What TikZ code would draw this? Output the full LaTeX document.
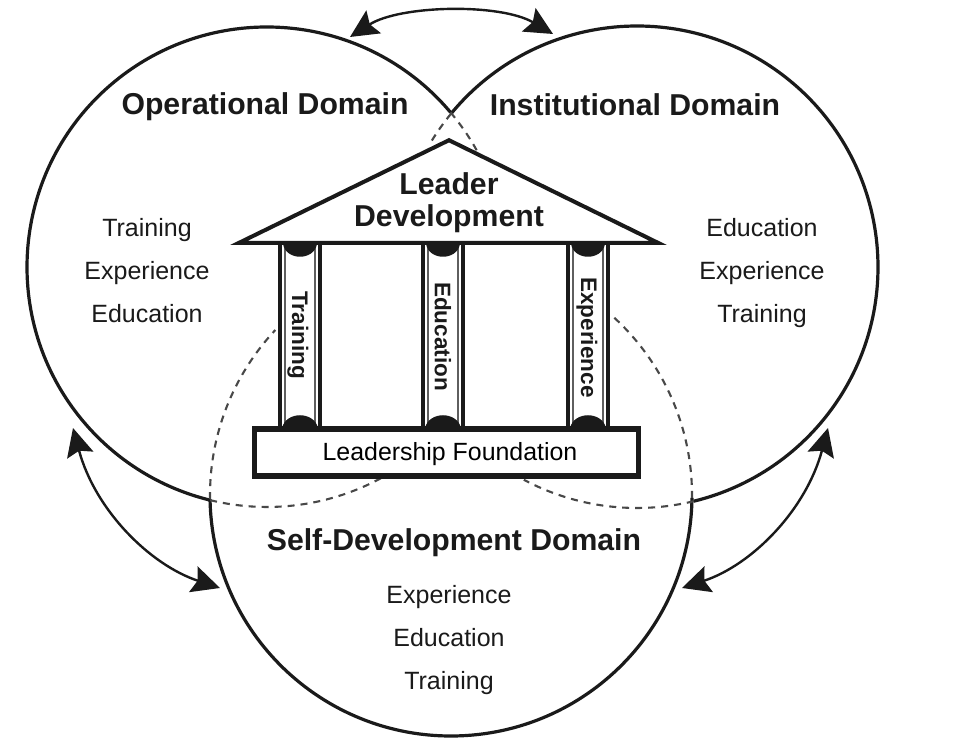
\documentclass[tikz,border=0pt]{standalone}
\usepackage{fontspec}
\setmainfont{Liberation Sans}
\usetikzlibrary{arrows.meta,positioning}
\definecolor{ink}{HTML}{1A1A1A}
\tikzset{
  domainline/.style={line width=3.2pt,ink},
  hiddenline/.style={line width=2.1pt,ink!80,dash pattern=on 7pt off 6pt},
  cycle arrow/.style={line width=2.4pt,ink,{Stealth[length=28pt,width=27pt,inset=4.5pt]}-{Stealth[length=28pt,width=27pt,inset=4.5pt]}},
  title/.style={font=\bfseries\fontsize{30.2}{33}\selectfont,text=ink,inner sep=0pt},
  item/.style={font=\fontsize{25}{28}\selectfont,text=ink,inner sep=0pt},
  pillartext/.style={font=\bfseries\fontsize{22.5}{24}\selectfont,text=ink,inner sep=0pt,rotate=-90},
  roof/.style={line width=4pt,draw=ink,fill=white,miter limit=20,line join=miter},
  heavy/.style={line width=4pt,ink},
  thin/.style={line width=1.8pt,ink!70},
  basebox/.style={draw=ink,fill=white,line width=5.5pt,minimum width=384pt,minimum height=47pt,inner sep=0pt}
}
\newcommand{\pillar}[3]{%
  \draw[heavy] (#1+2,#3-245) -- (#1+2,#3-428);
  \draw[heavy] (#1+42,#3-245) -- (#1+42,#3-428);
  \draw[thin] (#1+7,#3-245) -- (#1+7,#3-428);
  \draw[thin] (#1+37,#3-245) -- (#1+37,#3-428);
  \fill[ink] (#1+5,#3-244) .. controls (#1+8,#3-261) and (#1+36,#3-261) .. (#1+39,#3-244) -- cycle;
  \fill[ink] (#1+4,#3-428) .. controls (#1+8,#3-411) and (#1+36,#3-411) .. (#1+40,#3-428) -- cycle;
}
\begin{document}
\begin{tikzpicture}[x=1pt,y=1pt]
\useasboundingbox (0,0) rectangle (966,746);
\fill[white] (0,0) rectangle (966,746);
% circle centres
\coordinate (L) at (267,479);
\coordinate (R) at (637,479);
\coordinate (B) at (451,251);
% solid domain outlines
\draw[domainline] ([shift={(40.1:240pt)}]L) arc[start angle=40.1,end angle=256.3,radius=240pt];
\draw[domainline] ([shift={(140.5:241pt)}]R) arc[start angle=140.5,end angle=-76.4,radius=241pt];
\draw[domainline] ([shift={(181:241pt)}]B) arc[start angle=181,end angle=359.3,radius=241pt];
% hidden parts of the outlines
\draw[hiddenline] ([shift={(40.1:240pt)}]L) arc[start angle=40.1,end angle=29,radius=240pt];
\draw[hiddenline] ([shift={(140.5:241pt)}]R) arc[start angle=140.5,end angle=148.5,radius=241pt];
\draw[hiddenline] ([shift={(256.3:240pt)}]L) arc[start angle=256.3,end angle=301.5,radius=240pt];
\draw[hiddenline] ([shift={(-76.4:241pt)}]R) arc[start angle=-76.4,end angle=-118,radius=241pt];
\draw[hiddenline] ([shift={(181:241pt)}]B) arc[start angle=181,end angle=136.8,radius=241pt];
\draw[hiddenline] ([shift={(-0.7:241pt)}]B) arc[start angle=-0.7,end angle=48.5,radius=241pt];
% pillars
\fill[white] (278,501) rectangle (322,318);
\fill[white] (421,501) rectangle (465,318);
\fill[white] (566,501) rectangle (610,318);
\pillar{278}{0}{746}
\pillar{421}{0}{746}
\pillar{566}{0}{746}
\node[pillartext] (p1) at (298,411) {Training};
\node[pillartext] (p2) at (443,409.5) {Education};
\node[pillartext] (p3) at (587,408.5) {Experience};
% roof
\draw[roof] (238.7,503) -- (449,605.8) -- (658.3,503) -- cycle;
\node[title] (ld1) at (449,562) {Leader};
\node[title] (ld2) at (449,527) {Development};
% foundation
\node[basebox] (base) at (446.5,293.5) {};
\node[font=\fontsize{24.9}{28}\selectfont,text=black,inner sep=0pt] (basetext) at (450,291.5) {Leadership Foundation};
% domain titles
\node[title] (opd) at (265,639) {Operational Domain};
\node[title] (ind) at (635,641) {Institutional Domain};
\node[title] (sdd) at (454,203) {Self-Development Domain};
% domain items
\node[item] (o1) at (147,516) {Training};
\node[item] (o2) at (147,473) {Experience};
\node[item] (o3) at (147,432) {Education};
\node[item] (i1) at (762,518) {Education};
\node[item] (i2) at (762,473) {Experience};
\node[item] (i3) at (762,430) {Training};
\node[item] (s1) at (449,149) {Experience};
\node[item] (s2) at (449,108) {Education};
\node[item] (s3) at (449,63) {Training};
% exchange arrows
\coordinate (a1) at (350,709);
\coordinate (a2) at (553,712);
\coordinate (b1) at (73,318);
\coordinate (b2) at (220,158);
\coordinate (c1) at (828,318);
\coordinate (c2) at (682,158);
\draw[cycle arrow] (a1) .. controls (400,741) and (500,743) .. (a2);
\draw[cycle arrow] (b1) .. controls (95,236) and (150,181) .. (b2);
\draw[cycle arrow] (c1) .. controls (806,236) and (752,181) .. (c2);
\end{tikzpicture}
\end{document}
